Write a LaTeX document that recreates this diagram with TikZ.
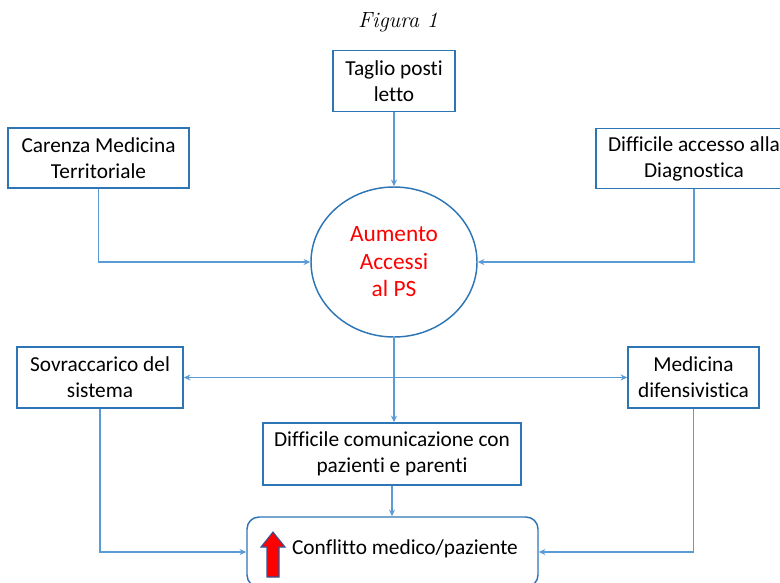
\documentclass[tikz,border=0pt]{standalone}
\usepackage{fontspec}
\usepackage{tikz}
\usetikzlibrary{shapes.geometric}
\usetikzlibrary{arrows.meta}
\newfontfamily\calibri[Ligatures=NoCommon]{Carlito}
\definecolor{boxblue}{RGB}{46,117,182}
\definecolor{lineblue}{RGB}{91,155,213}
\definecolor{arrowedge}{RGB}{47,85,151}

\begin{document}
\begin{tikzpicture}[x=0.75pt,y=-0.75pt,
		box/.style={draw=boxblue,line width=1.1pt,fill=white,align=center,inner sep=2pt,minimum height=45pt,font=\calibri\fontsize{16}{19.5}\selectfont},
		conn/.style={draw=lineblue,line width=0.9pt,-{Stealth[length=5pt,width=4.5pt]}},
		link/.style={draw=lineblue,line width=0.9pt}]
				\useasboundingbox (0,0) rectangle (780,582);
				\node (titolo) at (398,22) {\fontsize{16.5}{19}\selectfont\itshape Figura 1};
				\node[box,minimum width=91.5pt,minimum height=45.75pt] (taglio) at (394,81) {Taglio posti\\letto};
				\node[box,minimum width=135.75pt] (carenza) at (98.5,158) {Carenza Medicina\\Territoriale};
				\node[box,minimum width=147pt] (diagn) at (694,158.5) {Difficile accesso alla\\Diagnostica};
				\node[draw=boxblue,line width=1.1pt,ellipse,inner sep=0pt,minimum width=124.5pt,minimum height=112.5pt,align=center,text=red,font=\calibri\fontsize{17.5}{20.6}\selectfont] (aumento) at (394,262) {Aumento\\Accessi\\al PS};
				\node[box,minimum width=124.5pt,minimum height=45.75pt] (sovracc) at (100,377.5) {Sovraccarico del\\sistema};
				\node[box,minimum width=98.25pt,minimum height=45.75pt] (medicina) at (693.5,377.5) {Medicina\\difensivistica};
				\node[box,minimum width=193.5pt,minimum height=46.5pt] (comm) at (392,454) {Difficile comunicazione con\\pazienti e parenti};
				\node[box,rounded corners=9pt,minimum width=218.25pt,minimum height=52.5pt] (conf) at (392.5,552) {};
				\node[font=\calibri\fontsize{16}{19.5}\selectfont] (conftesto) at (405,549) {Conflitto medico/paziente};
				\coordinate (freccia) at (273,577);
				\draw[line width=0.8pt,draw=arrowedge,fill=red] (freccia) ++(-6,0) -- ++(0,-30) -- ++(-6,0) -- ++(12,-15) -- ++(12,15) -- ++(-6,0) -- ++(0,30) -- cycle;
				\draw[conn] (taglio.south) -- (aumento.north);
				\draw[conn] (carenza.south) |- (aumento.west);
				\draw[conn] (diagn.south) |- (aumento.east);
				\coordinate (bivio) at (aumento.south |- sovracc.east);
				\draw[link] (aumento.south) -- (bivio);
				\draw[conn] (bivio) -- (sovracc.east);
				\draw[conn] (bivio) -- (medicina.west);
				\draw[conn] (bivio) -- (bivio |- comm.north);
				\draw[conn] (comm.south) -- (comm.south |- conf.north);
				\draw[conn] (sovracc.south) |- (conf.west);
				\draw[conn] (medicina.south) |- (conf.east);
			\end{tikzpicture}
\end{document}
